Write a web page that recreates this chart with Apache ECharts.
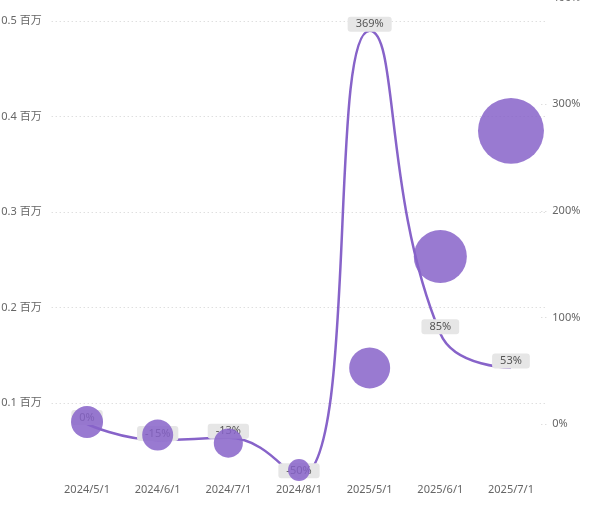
<!DOCTYPE html>
<html>
<head>
<meta charset="utf-8">
<style>
  html, body { margin: 0; padding: 0; background: #fff; }
  #main { width: 591px; height: 514px; }
</style>
<script src="https://cdn.jsdelivr.net/npm/echarts@6/dist/echarts.min.js"></script>
</head>
<body>
<div id="main"></div>
<script>
// categories (month)
var months = ['2024/5/1', '2024/6/1', '2024/7/1', '2024/8/1', '2025/5/1', '2025/6/1', '2025/7/1'];
// bubble values on the left axis
var amounts = [80400, 66800, 58400, 30200, 137000, 253600, 385000];
// bubble size measure
var sizeVals = [64, 60, 53, 30, 105, 176, 272];
// growth rate on the right axis, in percent
var growth = [0, -15, -13, -50, 369, 85, 53];

var fontFamily = '"Segoe UI", "Noto Sans", "Noto Sans CJK SC", sans-serif';

document.addEventListener('DOMContentLoaded', function() {
    var chartDom = document.getElementById('main');
    var myChart = echarts.init(chartDom);
    var option;

    option = {
        animation: false,
        textStyle: { fontFamily: fontFamily },
        grid: {
            left: 51.7,
            right: 44.7,
            top: -2.3,
            bottom: 36.7,
            outerBoundsMode: 'none'
        },
        xAxis: {
            type: 'category',
            data: months,
            axisLine: { show: false },
            axisTick: { show: false },
            axisLabel: { color: '#666', fontSize: 11, margin: 7, fontFamily: fontFamily }
        },
        yAxis: [
            {
                type: 'value',
                min: 22600,
                max: 524300,
                splitNumber: 5,
                axisLine: { show: false },
                axisTick: { show: false },
                axisLabel: {
                    color: '#666',
                    fontSize: 11,
                    margin: 10,
                    fontFamily: fontFamily,
                    showMinLabel: false,
                    showMaxLabel: false,
                    formatter: function(v) { return (v / 1e6).toFixed(1) + ' 百万'; }
                },
                splitLine: {
                    show: true,
                    showMinLine: false,
                    showMaxLine: false,
                    lineStyle: { type: [1, 3], color: '#d0d0d0', width: 1 }
                }
            },
            {
                type: 'value',
                min: -50,
                max: 400,
                splitNumber: 5,
                axisLine: { show: false },
                axisTick: {
                    show: true,
                    inside: true,
                    length: 8,
                    lineStyle: { type: [1, 3], color: '#d0d0d0' }
                },
                axisLabel: {
                    color: '#666',
                    fontSize: 11,
                    margin: 6,
                    fontFamily: fontFamily,
                    showMinLabel: false,
                    formatter: '{value}%'
                },
                splitLine: { show: false }
            }
        ],
        series: [
            {
                name: 'growth',
                type: 'line',
                yAxisIndex: 1,
                data: growth,
                smooth: true,
                z: 2,
                symbol: 'circle',
                symbolSize: 0.1,
                showSymbol: true,
                lineStyle: { color: '#8763c9', width: 2.5 },
                itemStyle: { color: '#8763c9' },
                label: {
                    show: true,
                    position: 'top',
                    offset: [0, 6],
                    formatter: '{c}%',
                    color: '#555',
                    fontSize: 11,
                    fontFamily: fontFamily,
                    backgroundColor: '#e6e6e6',
                    borderRadius: 3,
                    padding: [2, 8]
                }
            },
            {
                name: 'amount',
                type: 'scatter',
                yAxisIndex: 0,
                z: 3,
                data: amounts.map(function(v, i) { return [i, v, sizeVals[i]]; }),
                symbolSize: function(d) { return 4 * Math.sqrt(d[2]); },
                itemStyle: { color: '#8763c9', opacity: 0.85 }
            }
        ]
    };

    option && myChart.setOption(option);
});
</script>
</body>
</html>
